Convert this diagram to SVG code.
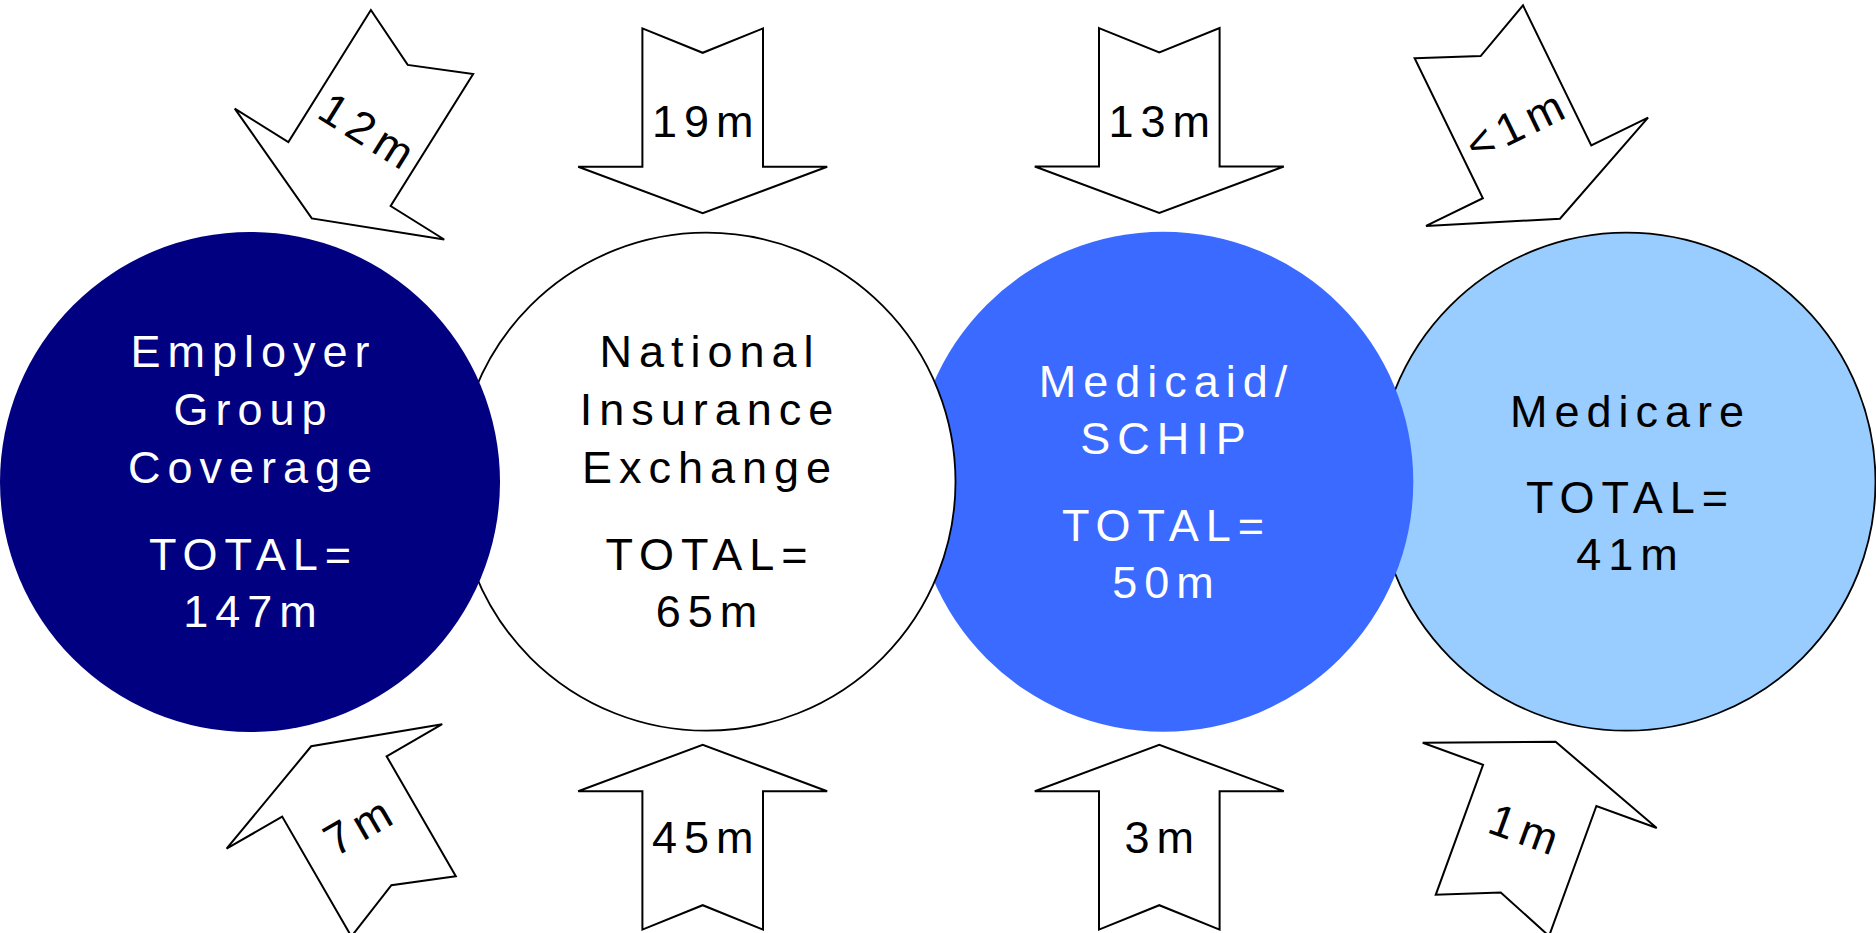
<svg xmlns="http://www.w3.org/2000/svg" xmlns:xlink="http://www.w3.org/1999/xlink" width="1876" height="933" viewBox="0 0 1876 933">
<style>
  .lbl { font-family: "Liberation Sans", Arial, sans-serif; font-size: 45px; letter-spacing: 7px; text-anchor: middle; }
  .wt { fill: #ffffff; }
  .bk { fill: #000000; }
  .arrow { fill: #ffffff; stroke: #000000; stroke-width: 2; stroke-linejoin: miter; }
</style>
<defs>
  <polygon id="arrowStd" class="arrow" points="-60.3,-92.4 0,-68 60.3,-92.4 60.3,46 124.5,46 0,92.4 -124.5,46 -60.3,46"/>
  <polygon id="arrowLong" class="arrow" points="-60.3,-104 0,-77 60.3,-104 60.3,51.7 123.5,51.7 0,104 -123.5,51.7 -60.3,51.7"/>
</defs>
<rect x="0" y="0" width="1876" height="933" fill="#ffffff"/>

<g id="node-medicare">
  <circle cx="1626.5" cy="481.7" r="249" fill="#99CCFF" stroke="#000000" stroke-width="1.8"/>
  <text class="lbl bk" x="1630.5" y="426.7">Medicare</text>
  <text class="lbl bk" x="1630.5" y="512.7">TOTAL=</text>
  <text class="lbl bk" x="1630.5" y="570">41m</text>
</g>
<g id="node-medicaid">
  <circle cx="1163.3" cy="481.7" r="250" fill="#3A6AFF"/>
  <text class="lbl wt" x="1166.5" y="396.7">Medicaid/</text>
  <text class="lbl wt" x="1166.5" y="454.3">SCHIP</text>
  <text class="lbl wt" x="1166.5" y="540.7">TOTAL=</text>
  <text class="lbl wt" x="1166.5" y="598.3">50m</text>
</g>
<g id="node-exchange">
  <circle cx="706.5" cy="481.7" r="249" fill="#ffffff" stroke="#000000" stroke-width="1.8"/>
  <text class="lbl bk" x="710" y="367.3">National</text>
  <text class="lbl bk" x="710" y="425">Insurance</text>
  <text class="lbl bk" x="710" y="483.3">Exchange</text>
  <text class="lbl bk" x="710" y="570">TOTAL=</text>
  <text class="lbl bk" x="710" y="627.3">65m</text>
</g>
<g id="node-employer">
  <circle cx="250" cy="482" r="250" fill="#000080"/>
  <text class="lbl wt" x="253.5" y="367.3">Employer</text>
  <text class="lbl wt" x="253.5" y="425">Group</text>
  <text class="lbl wt" x="253.5" y="483.3">Coverage</text>
  <text class="lbl wt" x="253.5" y="570">TOTAL=</text>
  <text class="lbl wt" x="253.5" y="627.3">147m</text>
</g>

<g id="connectors">
  <g id="flow-12m" transform="translate(366.9,130.2) rotate(32)">
    <use xlink:href="#arrowLong"/>
    <text class="lbl bk" x="3.5" y="16">12m</text>
  </g>
  <g id="flow-19m" transform="translate(702.7,120.8)">
    <use xlink:href="#arrowStd"/>
    <text class="lbl bk" x="3.5" y="16">19m</text>
  </g>
  <g id="flow-13m" transform="translate(1159.3,120.5)">
    <use xlink:href="#arrowStd"/>
    <text class="lbl bk" x="3.5" y="16">13m</text>
  </g>
  <g id="flow-lt1m" transform="translate(1514.4,125.3) rotate(-26)">
    <use xlink:href="#arrowLong"/>
    <text class="lbl bk" x="3.5" y="16">&lt;1m</text>
  </g>
  <g id="flow-7m" transform="translate(357.4,826.3) rotate(-30)">
    <use xlink:href="#arrowStd" transform="rotate(180)"/>
    <text class="lbl bk" x="3.5" y="16">7m</text>
  </g>
  <g id="flow-45m" transform="translate(702.7,837.2)">
    <use xlink:href="#arrowStd" transform="rotate(180)"/>
    <text class="lbl bk" x="3.5" y="16">45m</text>
  </g>
  <g id="flow-3m" transform="translate(1159.3,837.2)">
    <use xlink:href="#arrowStd" transform="rotate(180)"/>
    <text class="lbl bk" x="3.5" y="16">3m</text>
  </g>
  <g id="flow-1m" transform="translate(1524,828.6) rotate(20)">
    <use xlink:href="#arrowStd" transform="rotate(180)"/>
    <text class="lbl bk" x="3.5" y="16">1m</text>
  </g>
</g>
</svg>
